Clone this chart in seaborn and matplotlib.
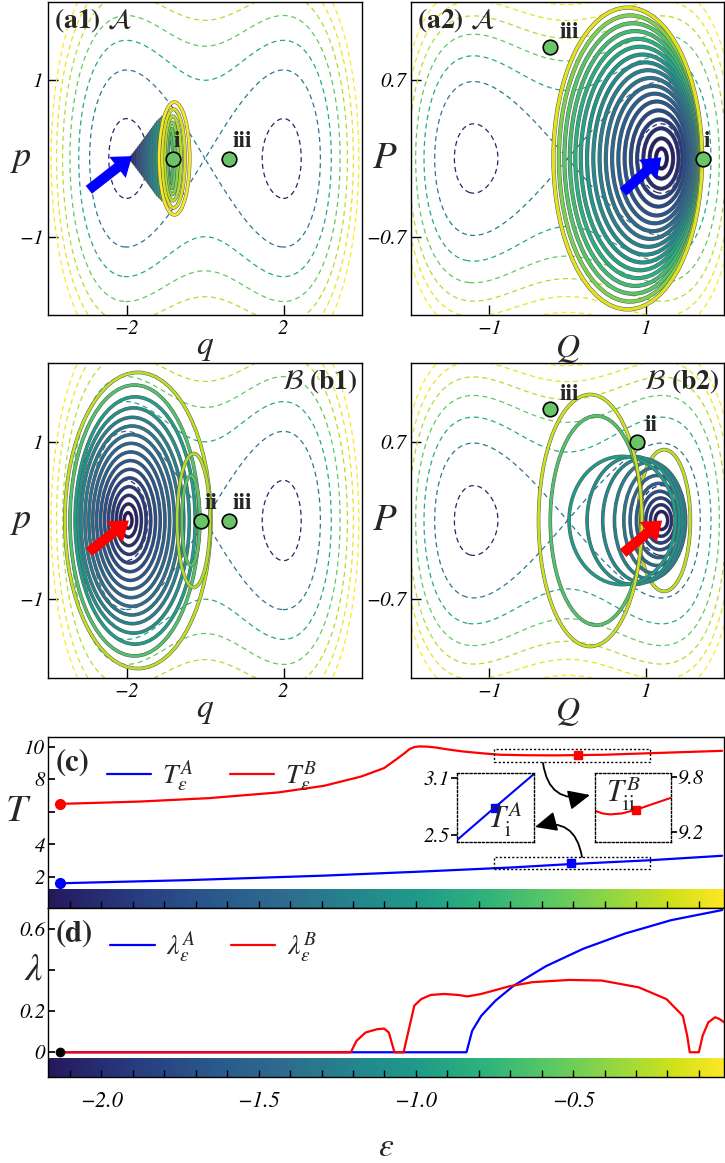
import numpy as np
import matplotlib
matplotlib.use("Agg")
import matplotlib.pyplot as plt
import matplotlib.patheffects as pe
from matplotlib.colors import LinearSegmentedColormap
from matplotlib.patches import Ellipse, Rectangle, FancyArrowPatch
from matplotlib.ticker import MultipleLocator
from matplotlib.transforms import blended_transform_factory
import seaborn as sns

# ---------------- data ----------------
# energy landscape (dashed contours) for the (q,p) and (Q,P) panels
contour_levels = [0.13, 0.64, 1.14, 1.67, 2.2, 2.7, 3.2]
contour_shades = [0.05, 0.40, 0.60, 0.75, 0.88, 0.96, 1.0]
well_q, barrier, soft = 2.0, 0.64, 25.0
well_Q, mass_Q = 1.2, 0.37

# trajectory loops: left edge, right edge, half height, colour shade
a1_left = [-1.89, -1.845, -1.80, -1.755, -1.71, -1.665, -1.62, -1.575, -1.53, -1.485, -1.44, -1.395,
           -1.35, -1.305, -1.26, -1.215, -1.17, -1.13, -0.94, -0.96, -0.99, -1.03, -1.09, -1.17]
a1_right = [-1.83, -1.785, -1.74, -1.695, -1.65, -1.605, -1.56, -1.515, -1.47, -1.425, -1.38, -1.335,
            -1.29, -1.245, -1.20, -1.155, -1.11, -1.07, -0.82, -0.76, -0.69, -0.61, -0.51, -0.39]
a1_height = [0.02, 0.05, 0.08, 0.11, 0.14, 0.17, 0.20, 0.23, 0.26, 0.29, 0.32, 0.35,
             0.38, 0.41, 0.44, 0.46, 0.48, 0.50, 0.30, 0.38, 0.46, 0.54, 0.63, 0.72]
a1_shade = [0.0, 0.04, 0.08, 0.11, 0.15, 0.19, 0.22, 0.26, 0.30, 0.33, 0.37, 0.41,
            0.44, 0.48, 0.52, 0.55, 0.59, 0.63, 0.70, 0.76, 0.82, 0.88, 0.94, 1.0]

a2_left = [1.13, 1.05, 0.97, 0.89, 0.81, 0.73, 0.65, 0.57, 0.49, 0.41, 0.33, 0.25,
           0.17, 0.10, 0.03, -0.04, -0.11, -0.18]
a2_right = [1.27, 1.35, 1.42, 1.47, 1.51, 1.55, 1.58, 1.61, 1.63, 1.65, 1.66, 1.67,
            1.68, 1.69, 1.70, 1.71, 1.71, 1.72]
a2_height = [0.09, 0.18, 0.27, 0.35, 0.43, 0.51, 0.58, 0.65, 0.72, 0.79, 0.86, 0.93,
             1.00, 1.07, 1.14, 1.21, 1.28, 1.35]
a2_shade = [0.0, 0.04, 0.08, 0.13, 0.18, 0.23, 0.28, 0.33, 0.38, 0.43, 0.48, 0.53,
            0.58, 0.63, 0.68, 0.73, 0.80, 0.95]

b1_left = [-2.06, -2.16, -2.26, -2.36, -2.46, -2.56, -2.66, -2.76, -2.86, -2.96, -3.06, -3.16,
           -3.24, -3.31, -3.44, -3.57, -0.59, -0.71]
b1_right = [-1.86, -1.74, -1.62, -1.50, -1.38, -1.26, -1.14, -1.02, -0.90, -0.78, -0.66, -0.54,
            -0.40, -0.25, -0.15, 0.15, -0.13, 0.13]
b1_height = [0.10, 0.21, 0.32, 0.43, 0.54, 0.65, 0.76, 0.87, 0.98, 1.09, 1.20, 1.31,
             1.43, 1.57, 1.72, 1.88, 0.57, 0.85]
b1_shade = [0.0, 0.04, 0.08, 0.12, 0.16, 0.20, 0.24, 0.28, 0.32, 0.36, 0.40, 0.44,
            0.50, 0.56, 0.72, 0.90, 0.74, 0.88]

b2_left = [0.90, 1.12, 1.06, 1.00, 0.94, 0.88, 0.80, 0.72, 0.60, 0.45, 0.25, 0.02, -0.22, -0.37]
b2_right = [1.57, 1.28, 1.33, 1.38, 1.42, 1.46, 1.49, 1.51, 1.50, 1.47, 1.43, 1.38, 0.96, 0.95]
b2_height = [0.63, 0.08, 0.14, 0.20, 0.26, 0.33, 0.40, 0.47, 0.52, 0.55, 0.57, 0.57, 0.93, 1.12]
b2_shade = [0.90, 0.02, 0.08, 0.14, 0.20, 0.26, 0.32, 0.38, 0.43, 0.47, 0.51, 0.55, 0.72, 0.92]

# fixed points i / ii / iii and starting arrows
a1_pts = {"i": (-0.82, 0.0), "iii": (0.61, 0.0)}
a2_pts = {"iii": (-0.23, 1.0), "i": (1.73, 0.0)}
b1_pts = {"ii": (-0.10, 0.0), "iii": (0.61, 0.0)}
b2_pts = {"iii": (-0.23, 0.99), "ii": (0.89, 0.70)}
a1_arrow = [(-2.96, -0.40), (-1.86, 0.03)]
a2_arrow = [(0.71, -0.30), (1.20, 0.01)]
b1_arrow = [(-2.96, -0.40), (-1.94, 0.0)]
b2_arrow = [(0.71, -0.29), (1.21, 0.0)]

# (c) periods
eps_TB = [-2.131, -1.881, -1.66, -1.439, -1.292, -1.174, -1.101, -1.057, -1.035, -1.020, -1.005,
          -0.990, -0.965, -0.939, -0.90, -0.850, -0.79, -0.733, -0.65, -0.556, -0.40, -0.261, -0.026]
T_B = [6.49, 6.63, 6.84, 7.19, 7.60, 8.17, 8.69, 9.30, 9.62, 9.86, 9.98,
       10.02, 10.01, 9.96, 9.84, 9.71, 9.60, 9.51, 9.48, 9.47, 9.51, 9.60, 9.75]
eps_TA = [-2.131, -1.73, -1.292, -0.993, -0.697, -0.508, -0.261, -0.026]
T_A = [1.61, 1.80, 2.08, 2.32, 2.58, 2.79, 3.02, 3.30]
mark_A = (-0.508, 2.84)
mark_B = (-0.483, 9.47)
zoom_eps = (-0.75, -0.256)
zoom_TA = (2.49, 3.23)
zoom_TB = (9.08, 9.88)
ins_eps_A = [-0.75, -0.508, -0.256]
ins_TA = [2.45, 2.79, 3.14]
ins_eps_B = [-0.75, -0.701, -0.651, -0.577, -0.483, -0.380, -0.256]
ins_TB = [9.43, 9.40, 9.39, 9.40, 9.44, 9.50, 9.57]

# (d) Lyapunov exponents
eps_lA = [-2.131, -0.839, -0.821, -0.792, -0.747, -0.689, -0.586, -0.468, -0.335, -0.188, -0.026]
lam_A = [0.0, 0.0, 0.104, 0.177, 0.25, 0.323, 0.418, 0.502, 0.576, 0.641, 0.69]
eps_lB = [-2.131, -1.207, -1.189, -1.16, -1.123, -1.101, -1.086, -1.074, -1.068, -1.039, -1.027,
          -1.005, -0.983, -0.953, -0.910, -0.865, -0.836, -0.792, -0.703, -0.630, -0.512, -0.409,
          -0.291, -0.203, -0.151, -0.137, -0.129, -0.100, -0.088, -0.070, -0.048, -0.034, -0.019]
lam_B = [0.0, 0.0, 0.055, 0.096, 0.112, 0.115, 0.096, 0.032, 0.0, 0.0, 0.08,
         0.226, 0.258, 0.278, 0.283, 0.278, 0.271, 0.283, 0.32, 0.34, 0.351, 0.348,
         0.315, 0.258, 0.177, 0.08, 0.0, 0.0, 0.08, 0.145, 0.17, 0.161, 0.145]
eps_start = -2.131

# ---------------- style ----------------
sns.set_theme(style="ticks")
plt.rcParams['font.family'] = ['STIXGeneral', 'DejaVu Serif']
plt.rcParams['mathtext.fontset'] = 'stix'
plt.rcParams['axes.edgecolor'] = 'black'
plt.rcParams['axes.linewidth'] = 1.0
plt.rcParams['xtick.direction'] = 'in'
plt.rcParams['ytick.direction'] = 'in'
plt.rcParams['xtick.color'] = 'black'
plt.rcParams['ytick.color'] = 'black'

# viridis with a navy (not purple) low end, as in the reference
vir = plt.get_cmap('viridis')
cmap = LinearSegmentedColormap.from_list(
    'traj', [(0.0, '#25185c'), (0.12, '#283a7f'), (0.25, '#2a5a8c')] +
    [(v, vir(v)) for v in (0.35, 0.45, 0.55, 0.65, 0.75, 0.85, 0.93, 1.0)])
W, H = 725, 1163
green_pt = '#6cc46a'


def frac(x0, y0, x1, y1):
    return [x0 / W, 1 - y1 / H, (x1 - x0) / W, (y1 - y0) / H]


def italic_ticks(ax, xt, xl, yt, yl, size=15):
    ax.set_xticks(xt)
    ax.set_xticklabels(xl, fontstyle='italic', fontsize=size)
    ax.set_yticks(yt)
    ax.set_yticklabels(yl, fontstyle='italic', fontsize=size)
    ax.tick_params(length=7, width=1, pad=3)


def landscape(ax, kind):
    if kind == 'q':
        x = np.linspace(-4, 4, 500)
        y = np.linspace(-2, 2, 300)
        X, Y = np.meshgrid(x, y)
        E = Y ** 2 / 2 + barrier / well_q ** 4 * (X ** 2 - well_q ** 2) ** 2 / (1 + X ** 2 / soft)
    else:
        x = np.linspace(-2, 2, 500)
        y = np.linspace(-1.4, 1.4, 300)
        X, Y = np.meshgrid(x, y)
        E = Y ** 2 / (2 * mass_Q) + barrier * ((X / well_Q) ** 2 - 1) ** 2
    ax.contour(X, Y, E, levels=contour_levels, colors=[cmap(s) for s in contour_shades],
               linewidths=0.9, linestyles=[(0, (4, 3))], zorder=1)


def loops(ax, left, right, height, shade, lw=1.9):
    for l, r, b, s in zip(left, right, height, shade):
        e = Ellipse(((l + r) / 2, 0), r - l, 2 * b, fill=False, edgecolor=cmap(s), lw=lw, zorder=3)
        e.set_path_effects([pe.Stroke(linewidth=lw + 0.7, foreground='0.35'), pe.Normal()])
        ax.add_patch(e)


def points(ax, pts, offsets):
    for name, (x, y) in pts.items():
        sns.scatterplot(x=[x], y=[y], s=110, color=green_pt, edgecolor='black', linewidth=1.2,
                        zorder=6, ax=ax, legend=False)
        dx, dy = offsets[name]
        ax.annotate(name, (x, y), xytext=(dx, dy), textcoords='offset points', fontsize=17,
                    fontweight='bold', ha='center', va='bottom', zorder=7)


def fat_arrow(ax, tail, tip, color):
    ax.annotate('', xy=tip, xytext=tail, zorder=8,
                arrowprops=dict(arrowstyle='simple,head_length=1.1,head_width=1.6,tail_width=0.6',
                                fc=color, ec='none', mutation_scale=12, shrinkA=0, shrinkB=0))


fig = plt.figure(figsize=(7.25, 11.63), dpi=100)

ax_a1 = fig.add_axes(frac(48, 2, 362, 315))
ax_a2 = fig.add_axes(frac(411, 2, 724, 315))
ax_b1 = fig.add_axes(frac(48, 363, 362, 678))
ax_b2 = fig.add_axes(frac(411, 363, 724, 678))

for ax, kind in [(ax_a1, 'q'), (ax_a2, 'Q'), (ax_b1, 'q'), (ax_b2, 'Q')]:
    landscape(ax, kind)
    if kind == 'q':
        ax.set_xlim(-4, 4)
        ax.set_ylim(-2, 2)
        italic_ticks(ax, [-2, 2], ['\u22122', '2'], [-1, 1], ['\u22121', '1'])
        ax.set_xlabel('$q$', fontsize=24, labelpad=-3)
        ax.text(-0.085, 0.5, '$p$', transform=ax.transAxes, fontsize=26, ha='center', va='center')
    else:
        ax.set_xlim(-2, 2)
        ax.set_ylim(-1.4, 1.4)
        italic_ticks(ax, [-1, 1], ['\u22121', '1'], [-0.7, 0.7], ['\u22120.7', '0.7'])
        ax.set_xlabel('$Q$', fontsize=24, labelpad=-3)
        ax.text(-0.085, 0.5, '$P$', transform=ax.transAxes, fontsize=28, ha='center', va='center')

loops(ax_a1, a1_left, a1_right, a1_height, a1_shade)
loops(ax_a2, a2_left, a2_right, a2_height, a2_shade, lw=2.3)
loops(ax_b1, b1_left, b1_right, b1_height, b1_shade)
loops(ax_b2, b2_left, b2_right, b2_height, b2_shade)

points(ax_a1, a1_pts, {"i": (3, 5), "iii": (10, 5)})
points(ax_a2, a2_pts, {"iii": (14, 3), "i": (3, 5)})
points(ax_b1, b1_pts, {"ii": (7, 5), "iii": (10, 5)})
points(ax_b2, b2_pts, {"iii": (14, 3), "ii": (10, 4)})

fat_arrow(ax_a1, *a1_arrow, 'blue')
fat_arrow(ax_a2, *a2_arrow, 'blue')
fat_arrow(ax_b1, *b1_arrow, 'red')
fat_arrow(ax_b2, *b2_arrow, 'red')

ax_a1.text(0.02, 0.985, r'(a1) $\mathcal{A}$', transform=ax_a1.transAxes, fontsize=20,
           fontweight='bold', va='top', ha='left', zorder=9)
ax_a2.text(0.02, 0.985, r'(a2) $\mathcal{A}$', transform=ax_a2.transAxes, fontsize=20,
           fontweight='bold', va='top', ha='left', zorder=9)
ax_b1.text(0.985, 0.985, r'$\mathcal{B}$ (b1)', transform=ax_b1.transAxes, fontsize=20,
           fontweight='bold', va='top', ha='right', zorder=9)
ax_b2.text(0.985, 0.985, r'$\mathcal{B}$ (b2)', transform=ax_b2.transAxes, fontsize=20,
           fontweight='bold', va='top', ha='right', zorder=9)

# ---------------- (c) and (d) ----------------
ax_c = fig.add_axes(frac(48, 737, 724, 908))
ax_d = fig.add_axes(frac(48, 908, 724, 1077))
xlim = (-2.17, -0.02)
grad = np.linspace(0, 1, 256)[None, :]

sns.lineplot(x=eps_TA, y=T_A, color='blue', lw=1.6, label=r'$T_\epsilon^A$', ax=ax_c)
sns.lineplot(x=eps_TB, y=T_B, color='red', lw=1.6, label=r'$T_\epsilon^B$', ax=ax_c)
ax_c.plot([eps_start], [T_A[0]], 'o', color='blue', ms=7, zorder=5)
ax_c.plot([eps_start], [T_B[0]], 'o', color='red', ms=7, zorder=5)
ax_c.plot(*mark_A, 's', color='blue', ms=6, zorder=5)
ax_c.plot(*mark_B, 's', color='red', ms=6, zorder=5)
for lo, hi in [zoom_TA, zoom_TB]:
    ax_c.add_patch(Rectangle((zoom_eps[0], lo), zoom_eps[1] - zoom_eps[0], hi - lo, fill=False,
                             ls=(0, (1.5, 1.5)), lw=1.0, ec='black', zorder=4))
ax_c.imshow(grad, cmap=cmap, aspect='auto', extent=(xlim[0], xlim[1], 0.09, 1.2), zorder=0)
ax_c.set_xlim(*xlim)
ax_c.set_ylim(0.09, 10.6)
ax_c.set_yticks([2, 4, 6, 8, 10])
ax_c.set_yticklabels(['2', '4', '', '8', '10'], fontstyle='italic', fontsize=15)
ax_c.tick_params(axis='y', length=5, pad=2)
ax_c.text(-0.044, 6, '$T$', transform=blended_transform_factory(ax_c.transAxes, ax_c.transData),
          fontsize=28, ha='center', va='center')
ax_c.text(0.012, 0.93, '(c)', transform=ax_c.transAxes, fontsize=22, fontweight='bold',
          va='top', ha='left')
ax_c.legend(loc='upper left', bbox_to_anchor=(0.05, 1.02), ncol=2, frameon=False, fontsize=20,
            handlelength=1.6, columnspacing=1.3, handletextpad=0.4)

sns.lineplot(x=eps_lA, y=lam_A, color='blue', lw=1.6, label=r'$\lambda_\epsilon^A$', ax=ax_d)
sns.lineplot(x=eps_lB, y=lam_B, color='red', lw=1.6, label=r'$\lambda_\epsilon^B$', ax=ax_d)
ax_d.plot([eps_start], [0], 'o', color='black', ms=6, zorder=5)
ax_d.imshow(grad, cmap=cmap, aspect='auto', extent=(xlim[0], xlim[1], -0.12, -0.03), zorder=0)
ax_d.set_xlim(*xlim)
ax_d.set_ylim(-0.12, 0.70)
ax_d.set_yticks([0, 0.2, 0.4, 0.6])
ax_d.set_yticklabels(['0', '0.2', '', '0.6'], fontstyle='italic', fontsize=15)
ax_d.tick_params(axis='y', length=5, pad=2)
ax_d.text(-0.021, 0.4, r'$\lambda$', transform=blended_transform_factory(ax_d.transAxes, ax_d.transData),
          fontsize=28, ha='center', va='center')
ax_d.text(0.012, 0.93, '(d)', transform=ax_d.transAxes, fontsize=22, fontweight='bold',
          va='top', ha='left')
ax_d.legend(loc='upper left', bbox_to_anchor=(0.055, 1.02), ncol=2, frameon=False, fontsize=20,
            handlelength=1.6, columnspacing=1.3, handletextpad=0.4)

for ax in (ax_c, ax_d):
    ax.xaxis.set_major_locator(MultipleLocator(0.5))
    ax.xaxis.set_minor_locator(MultipleLocator(0.1))
    ax.tick_params(axis='x', which='both', length=5, width=1)
    ax.set_ylabel('')
    ax.set_xlabel('')
ax_c.set_xticklabels([])
ax_d.set_xticks([-2.0, -1.5, -1.0, -0.5])
ax_d.set_xticklabels(['\u22122.0', '\u22121.5', '\u22121.0', '\u22120.5'], fontstyle='italic', fontsize=16)
ax_d.tick_params(axis='x', pad=10)
ax_d.set_xlabel(r'$\epsilon$', fontsize=24, labelpad=16)

# insets in (c)
ins_a = fig.add_axes(frac(457, 773, 534, 842))
sns.lineplot(x=ins_eps_A, y=ins_TA, color='blue', lw=1.5, ax=ins_a)
ins_a.plot(ins_eps_A[1], ins_TA[1], 's', color='blue', ms=6)
ins_a.set_xlim(*zoom_eps)
ins_a.set_ylim(2.43, 3.15)
ins_a.set_xticks([])
ins_a.set_yticks([2.5, 3.1])
ins_a.set_yticklabels(['2.5', '3.1'], fontstyle='italic', fontsize=15)
ins_a.tick_params(axis='y', direction='out', length=4, pad=1)
ins_a.text(0.62, 0.32, r'$T_{\rm i}^A$', transform=ins_a.transAxes, fontsize=22, ha='center', va='center')

ins_b = fig.add_axes(frac(595, 773, 671, 842))
sns.lineplot(x=ins_eps_B, y=ins_TB, color='red', lw=1.5, ax=ins_b)
ins_b.plot(ins_eps_B[4], ins_TB[4], 's', color='red', ms=6)
ins_b.set_xlim(*zoom_eps)
ins_b.set_ylim(9.09, 9.84)
ins_b.set_xticks([])
ins_b.set_yticks([9.2, 9.8])
ins_b.yaxis.tick_right()
ins_b.set_yticklabels(['9.2', '9.8'], fontstyle='italic', fontsize=15)
ins_b.tick_params(axis='y', direction='out', length=4, pad=1)
ins_b.text(0.38, 0.70, r'$T_{\rm ii}^B$', transform=ins_b.transAxes, fontsize=22, ha='center', va='center')

for ins in (ins_a, ins_b):
    ins.set_xlabel('')
    ins.set_ylabel('')
    for sp in ins.spines.values():
        sp.set_linestyle((0, (1.5, 1.5)))
        sp.set_linewidth(1.0)

for (x0, y0), (x1, y1), rad in [((543, 763), (590, 795), 0.55), ((582, 857), (535, 827), 0.55)]:
    arr = FancyArrowPatch((x0 / W, 1 - y0 / H), (x1 / W, 1 - y1 / H), transform=fig.transFigure,
                          connectionstyle=f'arc3,rad={rad}', arrowstyle='-|>,head_length=1.1,head_width=0.5',
                          mutation_scale=12, color='black', lw=1.3, shrinkA=0, shrinkB=0)
    fig.add_artist(arr)

fig.savefig('out.png', dpi=100)
